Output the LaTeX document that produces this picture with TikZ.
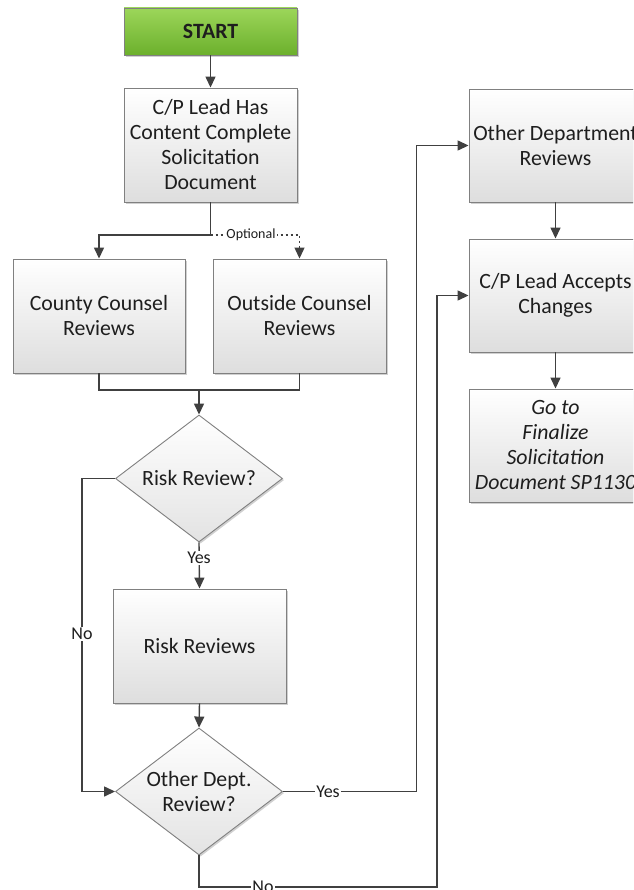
\documentclass[tikz,border=0pt]{standalone}
\usepackage{fontspec}
\setmainfont{Carlito}
\usetikzlibrary{arrows.meta,shapes.geometric,shadows}

\definecolor{linegray}{HTML}{404040}
\definecolor{edgegray}{HTML}{808080}
\definecolor{txt}{HTML}{1E1E1E}
\definecolor{greentop}{HTML}{9CD65A}
\definecolor{greenbot}{HTML}{6CB02C}

\tikzset{
  boxfont/.style={font=\fontsize{21.8pt}{25pt}\selectfont, text=txt},
  labelfont/.style={font=\fontsize{18pt}{20pt}\selectfont, text=txt, fill=white, inner sep=1pt},
  smalllabel/.style={font=\fontsize{14pt}{16pt}\selectfont, text=txt, fill=white, inner sep=1pt},
  softshadow/.style={drop shadow={shadow xshift=1.6pt, shadow yshift=-1.6pt, opacity=0.3, fill=black!60}},
  procbox/.style={boxfont, draw=edgegray, line width=0.9pt, rectangle,
    top color=white, bottom color=black!13, softshadow,
    minimum width=173pt, minimum height=114pt, inner sep=1pt, align=center},
  startbox/.style={procbox, top color=greentop, bottom color=greenbot,
    minimum height=47pt, font=\fontsize{21.8pt}{25pt}\selectfont\bfseries},
  decision/.style={draw=edgegray, line width=0.9pt, diamond,
    top color=white, bottom color=black!11, softshadow,
    minimum width=167pt, minimum height=127pt, inner sep=0pt},
  decisiontext/.style={boxfont, align=center, inner sep=0pt},
  flow/.style={draw=linegray, line width=1.4pt, -{Triangle[length=11pt,width=10pt]}},
  plainflow/.style={draw=linegray, line width=1.4pt},
  optflow/.style={draw=linegray, line width=1.2pt, dash pattern=on 2.5pt off 2.5pt,
    -{Triangle[length=11pt,width=10pt]}},
}

\begin{document}
\begin{tikzpicture}[x=1pt,y=-1pt]
  \path[use as bounding box, clip] (0,0) rectangle (633,890);
  \fill[white] (0,0) rectangle (633,890);

  % process steps
  \node[startbox] (start) at (210.5,31.5) {START};
  \node[procbox] (lead) at (210.5,145) {C/P Lead Has\\Content Complete\\Solicitation\\Document};
  \node[procbox, minimum width=172pt] (county) at (99,316) {County Counsel\\Reviews};
  \node[procbox] (outside) at (299.5,316) {Outside Counsel\\Reviews};
  \node[decision] (risk) at (199,478.5) {};
  \node[decisiontext] (risktxt) at (risk) {Risk Review?};
  \node[procbox] (riskrev) at (199.5,646) {Risk Reviews};
  \node[decision] (other) at (199,791.5) {};
  \node[decisiontext] (othertxt) at (other) {Other Dept.\\Review?};
  \node[procbox, minimum height=113pt] (odr) at (555.5,145.5) {Other Department\\Reviews};
  \node[procbox, minimum height=113pt] (accept) at (555.5,295.5) {C/P Lead Accepts\\Changes};
  \node[procbox, minimum height=113pt, font=\fontsize{21.8pt}{25pt}\selectfont\itshape] (goto) at (555.5,445.5)
    {Go to\\Finalize\\Solicitation\\Document SP1130};

  % junction points
  \coordinate (split) at (210.5,235);
  \coordinate (join) at (199,390);

  % connectors
  \draw[flow] (start) -- (lead);
  \draw[plainflow] (lead.south) -- (split);
  \draw[flow] (split) -| (county.north);
  \draw[optflow] (split) -| (outside.north);
  \node[smalllabel] (optlbl) at (251,235) {Optional};

  \draw[plainflow] (county.south) |- (join);
  \draw[plainflow] (outside.south) |- (join);
  \draw[flow] (join) -- (risk.north);

  \draw[flow] (risk.south) -- (riskrev.north);
  \node[labelfont] (yes1) at (199,558) {Yes};

  \draw[flow] (risk.west) -- (82,478.5) -- (82,791.5) -- (other.west);
  \node[labelfont] (no1) at (82,634) {No};

  \draw[flow] (riskrev.south) -- (other.north);

  \draw[flow] (other.east) -- (416.5,791.5) |- (odr.west);
  \node[labelfont] (yes2) at (328,791.5) {Yes};

  \draw[flow] (other.south) -- (199,887) -- (437,887) |- (accept.west);
  \node[labelfont] (no2) at (263,887) {No};

  \draw[flow] (odr.south) -- (accept.north);
  \draw[flow] (accept.south) -- (goto.north);
\end{tikzpicture}
\end{document}
